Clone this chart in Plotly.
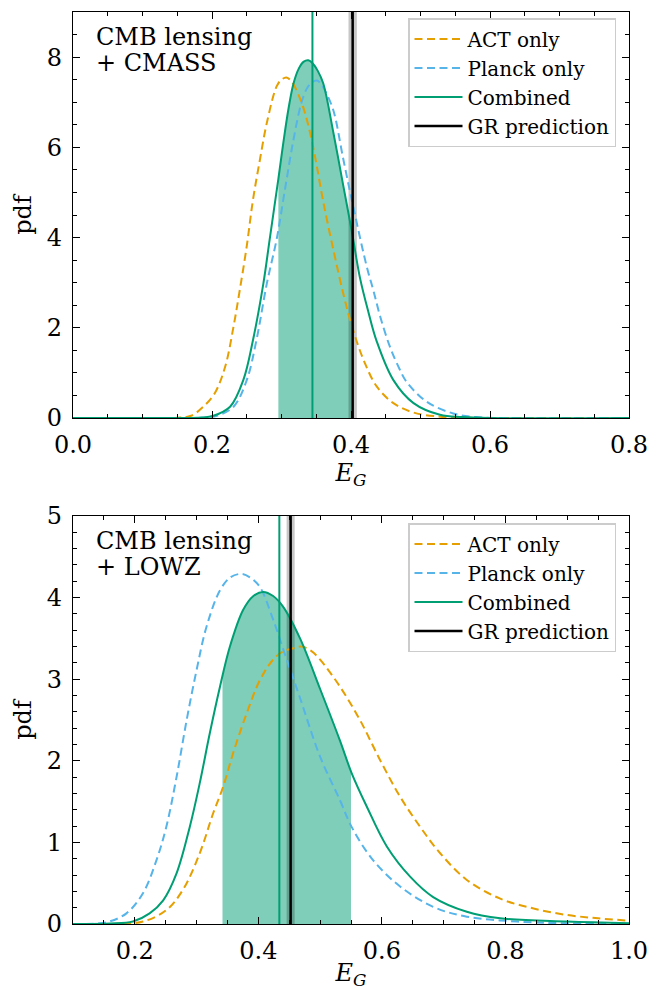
import numpy as np
import plotly.graph_objects as go

# ---------------- data: top panel (CMB lensing + CMASS) ----------------
top_act_E = [0.00, 0.10, 0.15, 0.17, 0.1875, 0.204, 0.219, 0.231, 0.240, 0.250, 0.259, 0.269,
             0.279, 0.293, 0.300, 0.307, 0.315, 0.327, 0.334, 0.341, 0.350, 0.360, 0.375, 0.389,
             0.401, 0.418, 0.437, 0.461, 0.490, 0.528, 0.560, 0.600, 0.800]
top_act_pdf = [0.0, 0.0, 0.005, 0.05, 0.25, 0.55, 1.14, 2.03, 2.84, 3.81, 4.84, 5.73,
               6.55, 7.35, 7.50, 7.55, 7.45, 7.07, 6.75, 6.33, 5.65, 4.80, 3.70, 2.75,
               2.05, 1.29, 0.70, 0.33, 0.12, 0.03, 0.01, 0.0, 0.0]

top_planck_E = [0.00, 0.15, 0.19, 0.207, 0.231, 0.250, 0.264, 0.279, 0.293, 0.305, 0.317, 0.328,
                0.336, 0.343, 0.351, 0.358, 0.366, 0.375, 0.389, 0.403, 0.4226, 0.432, 0.442,
                0.456, 0.470, 0.480, 0.509, 0.547, 0.580, 0.620, 0.800]
top_planck_pdf = [0.0, 0.0, 0.01, 0.05, 0.25, 0.84, 1.73, 2.99, 3.96, 5.07, 6.15, 6.95,
                  7.29, 7.43, 7.48, 7.38, 7.15, 6.80, 5.73, 4.70, 3.36, 2.84, 2.25,
                  1.58, 1.08, 0.80, 0.36, 0.10, 0.02, 0.0, 0.0]

top_comb_E = [0.00, 0.15, 0.185, 0.202, 0.226, 0.245, 0.259, 0.274, 0.283, 0.2955, 0.3026, 0.310,
              0.317, 0.325, 0.332, 0.3386, 0.345, 0.352, 0.360, 0.3746, 0.389, 0.401, 0.413,
              0.425, 0.437, 0.461, 0.490, 0.528, 0.560, 0.600, 0.800]
top_comb_pdf = [0.0, 0.0, 0.01, 0.05, 0.25, 0.84, 1.73, 2.99, 3.96, 5.30, 6.10, 6.85,
                7.40, 7.75, 7.90, 7.93, 7.86, 7.70, 7.42, 6.33, 5.14, 4.15, 3.10,
                2.35, 1.70, 0.84, 0.33, 0.07, 0.02, 0.0, 0.0]

top_interval = [0.2955, 0.401]
top_best = 0.3445
top_gr = 0.4024
top_gr_err = 0.006

# ---------------- data: bottom panel (CMB lensing + LOWZ) ----------------
bot_act_E = [0.10, 0.18, 0.2135, 0.251, 0.278, 0.3053, 0.327, 0.343, 0.359, 0.381, 0.4026, 0.424,
             0.440, 0.4566, 0.470, 0.485, 0.500, 0.532, 0.5645, 0.597, 0.6295, 0.662, 0.694,
             0.7375, 0.7916, 0.8456, 0.900, 0.950, 1.000]
bot_act_pdf = [0.0, 0.005, 0.03, 0.17, 0.42, 0.87, 1.36, 1.68, 2.09, 2.58, 2.99, 3.24,
               3.34, 3.38, 3.40, 3.35, 3.24, 2.91, 2.50, 2.01, 1.56, 1.19, 0.87,
               0.54, 0.31, 0.19, 0.11, 0.07, 0.04]

bot_planck_E = [0.10, 0.14, 0.159, 0.1865, 0.2135, 0.235, 0.251, 0.2676, 0.284, 0.300, 0.316, 0.338,
                0.355, 0.373, 0.388, 0.4026, 0.424, 0.446, 0.4675, 0.500, 0.532, 0.551, 0.586,
                0.6295, 0.683, 0.7375, 0.8187, 0.900, 1.000]
bot_planck_pdf = [0.0, 0.005, 0.03, 0.13, 0.38, 0.78, 1.19, 1.80, 2.50, 3.11, 3.64, 4.09,
                  4.25, 4.29, 4.24, 4.13, 3.73, 3.24, 2.77, 2.05, 1.52, 1.19, 0.78,
                  0.46, 0.21, 0.09, 0.03, 0.008, 0.002]

bot_comb_E = [0.10, 0.16, 0.197, 0.224, 0.246, 0.2676, 0.289, 0.305, 0.3215, 0.338, 0.354, 0.3755,
              0.392, 0.408, 0.424, 0.440, 0.4675, 0.500, 0.532, 0.551, 0.5755, 0.608, 0.6457,
              0.683, 0.7375, 0.7916, 0.900, 1.000]
bot_comb_pdf = [0.0, 0.005, 0.03, 0.13, 0.29, 0.62, 1.19, 1.72, 2.34, 2.91, 3.40, 3.85,
                4.02, 4.07, 4.02, 3.89, 3.50, 2.88, 2.25, 1.85, 1.44, 0.95, 0.58,
                0.33, 0.15, 0.07, 0.03, 0.01]

bot_interval = [0.342, 0.550]
bot_best = 0.434
bot_gr = 0.4523
bot_gr_err = 0.0065

labels = ["ACT only", "Planck only", "Combined", "GR prediction"]
panel_titles = [["CMB lensing", "+ CMASS"], ["CMB lensing", "+ LOWZ"]]
top_xrange, top_yrange = [0.0, 0.8], [0.0, 9.0]
bot_xrange, bot_yrange = [0.1, 1.0], [0.0, 5.0]

# ---------------- styling ----------------
C_ACT = "#E69F00"
C_PLANCK = "#56B4E9"
C_COMB = "#009E73"
FONT = "'DejaVu Serif', 'Liberation Serif', serif"
W, H = 665, 990
SM = 1.0

fig = go.Figure()


def add_panel(n, actE, actP, plE, plP, coE, coP, interval, best, gr, grerr, yr, legend):
    xa, ya = ("x", "y") if n == 1 else ("x2", "y2")
    lo, hi = interval
    xi = [lo] + [e for e in coE if lo < e < hi] + [hi]
    yi = list(np.interp(xi, coE, coP))
    fig.add_trace(go.Scatter(x=xi, y=yi, xaxis=xa, yaxis=ya, mode="lines",
                             line=dict(width=0, shape="spline", smoothing=SM),
                             fill="tozeroy", fillcolor="rgba(0,158,115,0.5)",
                             showlegend=False, hoverinfo="skip"))
    fig.add_trace(go.Scatter(x=[gr - grerr, gr + grerr, gr + grerr, gr - grerr],
                             y=[yr[0], yr[0], yr[1], yr[1]], xaxis=xa, yaxis=ya,
                             mode="lines", line=dict(width=0), fill="toself",
                             fillcolor="rgba(0,0,0,0.22)", showlegend=False, hoverinfo="skip"))
    dash = "8px,4.5px"
    fig.add_trace(go.Scatter(x=actE, y=actP, xaxis=xa, yaxis=ya, mode="lines", name=labels[0],
                             line=dict(color=C_ACT, width=2, dash=dash, shape="spline", smoothing=SM),
                             legend=legend))
    fig.add_trace(go.Scatter(x=plE, y=plP, xaxis=xa, yaxis=ya, mode="lines", name=labels[1],
                             line=dict(color=C_PLANCK, width=2, dash=dash, shape="spline", smoothing=SM),
                             legend=legend))
    fig.add_trace(go.Scatter(x=coE, y=coP, xaxis=xa, yaxis=ya, mode="lines", name=labels[2],
                             line=dict(color=C_COMB, width=2, shape="spline", smoothing=SM),
                             legend=legend))
    fig.add_trace(go.Scatter(x=[best, best], y=yr, xaxis=xa, yaxis=ya, mode="lines",
                             line=dict(color=C_COMB, width=2), showlegend=False))
    fig.add_trace(go.Scatter(x=[gr, gr], y=yr, xaxis=xa, yaxis=ya, mode="lines", name=labels[3],
                             line=dict(color="black", width=2.5), legend=legend))


add_panel(1, top_act_E, top_act_pdf, top_planck_E, top_planck_pdf, top_comb_E, top_comb_pdf,
          top_interval, top_best, top_gr, top_gr_err, top_yrange, "legend")
add_panel(2, bot_act_E, bot_act_pdf, bot_planck_E, bot_planck_pdf, bot_comb_E, bot_comb_pdf,
          bot_interval, bot_best, bot_gr, bot_gr_err, bot_yrange, "legend2")

# pixel layout
L, R = 73, 629
top_T, top_B = 12, 418
bot_T, bot_B = 516, 924
xdom = [L / W, R / W]
ydom_top = [1 - top_B / H, 1 - top_T / H]
ydom_bot = [1 - bot_B / H, 1 - bot_T / H]

tickfont = dict(family=FONT, size=24, color="black")
common = dict(showline=True, linecolor="black", linewidth=1.2, mirror="allticks",
              ticks="inside", ticklen=7, tickwidth=1.2, tickcolor="black",
              showgrid=False, zeroline=False, tickfont=tickfont, automargin=False,
              ticklabelstandoff=5)
minor_x = dict(dtick=0.05, ticks="inside", ticklen=4, tickwidth=1, tickcolor="black", showgrid=False)

xtitle = dict(text="<i>E</i><sub><i>G</i></sub>", font=dict(family=FONT, size=24, color="black"), standoff=3)
ytitle = dict(text="pdf", font=dict(family=FONT, size=24, color="black"), standoff=8)

fig.update_layout(
    width=W, height=H, margin=dict(l=0, r=0, t=0, b=0, autoexpand=False),
    paper_bgcolor="white", plot_bgcolor="white",
    font=dict(family=FONT, color="black"),
    xaxis=dict(domain=xdom, range=top_xrange, anchor="y", dtick=0.2, tickformat=".1f",
               minor=minor_x, title=xtitle, **common),
    yaxis=dict(domain=ydom_top, range=top_yrange, anchor="x", dtick=2,
               minor=dict(dtick=0.5, ticks="inside", ticklen=4, tickwidth=1, tickcolor="black", showgrid=False),
               title=ytitle, **common),
    xaxis2=dict(domain=xdom, range=bot_xrange, anchor="y2", tick0=0.2, dtick=0.2, tickformat=".1f",
                minor=dict(tick0=0.1, **minor_x), title=xtitle, **common),
    yaxis2=dict(domain=ydom_bot, range=bot_yrange, anchor="x2", dtick=1,
                minor=dict(dtick=0.2, ticks="inside", ticklen=4, tickwidth=1, tickcolor="black", showgrid=False),
                title=ytitle, **common),
)

legstyle = dict(bgcolor="rgba(255,255,255,0.85)", bordercolor="#cccccc", borderwidth=1.5,
                font=dict(family=FONT, size=20, color="black"), xanchor="left", yanchor="top",
                tracegroupgap=0, itemwidth=48)
fig.update_layout(legend=dict(x=408 / W, y=1 - 18 / H, **legstyle),
                  legend2=dict(x=408 / W, y=1 - 523 / H, **legstyle))

for (line1, line2), top in zip(panel_titles, [top_T, bot_T]):
    fig.add_annotation(text=line1, xref="paper", yref="paper", x=94 / W, y=1 - (top + 9) / H,
                       xanchor="left", yanchor="top", showarrow=False,
                       font=dict(family=FONT, size=24, color="black"))
    fig.add_annotation(text=line2, xref="paper", yref="paper", x=94 / W, y=1 - (top + 35) / H,
                       xanchor="left", yanchor="top", showarrow=False,
                       font=dict(family=FONT, size=24, color="black"))

fig.write_html("out.html")
